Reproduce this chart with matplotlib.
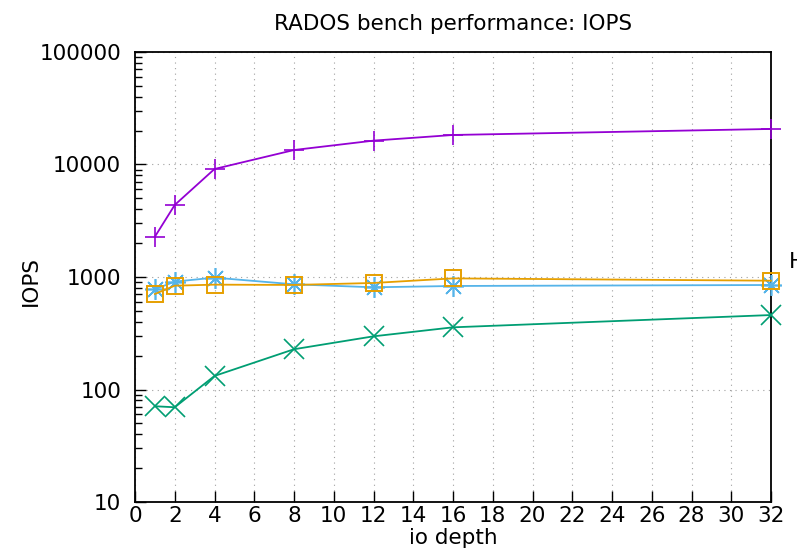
import matplotlib
matplotlib.use("Agg")
import matplotlib.pyplot as plt
from matplotlib.ticker import LogLocator, NullFormatter, FixedLocator

# io depth values used in every run
depth = [1, 2, 4, 8, 12, 16, 32]

# IOPS per series
iops_purple = [2280, 4370, 9120, 13450, 16300, 18300, 20700]
iops_green = [71, 69.5, 132, 228, 297, 357, 459]
iops_blue = [778, 910, 987, 861, 810, 832, 849]
iops_orange = [706, 837, 855, 850, 885, 972, 927]

x_ticks = list(range(0, 33, 2))
y_ticks = [10, 100, 1000, 10000, 100000]
y_labels = ['10', '100', '1000', '10000', '100000']

plt.rcParams['font.family'] = ['DejaVu Sans']
fs = 15.5

fig = plt.figure(figsize=(7.97, 5.5), dpi=100)
ax = fig.add_axes([135 / 797, 1 - 502 / 550, (771 - 135) / 797, (502 - 52) / 550])

lw = 1.3
ax.plot(depth, iops_purple, color='#9400d3', lw=lw, marker='+', ms=15, mew=1.2, clip_on=False, zorder=3)
ax.plot(depth, iops_green, color='#009e73', lw=lw, marker='x', ms=14, mew=1.2, clip_on=False, zorder=3)
ax.plot(depth, iops_blue, color='#56b4e9', lw=lw, marker=(8, 2, 0), ms=15, mew=1.2, clip_on=False, zorder=3)
ax.plot(depth, iops_orange, color='#e69f00', lw=lw, marker='s', ms=12, mew=1.4, mfc='none', clip_on=False, zorder=3)

ax.set_yscale('log')
ax.set_ylim(10, 100000)
ax.set_xlim(0, 32)
ax.xaxis.set_major_locator(FixedLocator(x_ticks))
ax.yaxis.set_minor_locator(LogLocator(base=10, subs=range(2, 10)))
ax.yaxis.set_minor_formatter(NullFormatter())
ax.set_yticks(y_ticks)
ax.set_yticklabels(y_labels)

ax.tick_params(axis='both', which='major', direction='in', length=8, width=1, labelsize=fs, colors='black')
ax.tick_params(axis='y', which='minor', direction='in', length=5, width=1)
ax.tick_params(axis='x', pad=3)
ax.tick_params(axis='y', pad=10)

ax.grid(True, which='major', color='#a0a0a0', linestyle=(0, (1, 4)), linewidth=0.8)
for s in ax.spines.values():
    s.set_linewidth(1.3)

ax.set_title('RADOS bench performance: IOPS', fontsize=fs, pad=16)
ax.set_xlabel('io depth', fontsize=fs, labelpad=1)
ax.set_ylabel('IOPS', fontsize=fs)
ax.yaxis.set_label_coords(-94 / 636, 0.49)

# key sits off to the right of the plot area
fig.text(789 / 797, 1 - 262 / 550, 'HDD', fontsize=fs, va='center', ha='left')

fig.savefig('out.png', dpi=100)
